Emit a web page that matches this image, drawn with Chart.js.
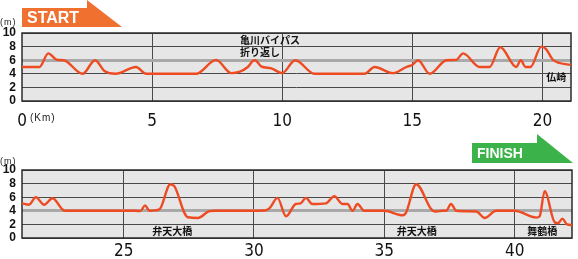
<!DOCTYPE html>
<html lang="ja">
<head>
<meta charset="utf-8">
<title>Course elevation</title>
<script src="https://cdn.jsdelivr.net/npm/chart.js@4.4.1/dist/chart.umd.min.js"></script>
<style>
  body { margin: 0; background: #fff; }
  #wrap { position: relative; width: 578px; height: 259px; }
  canvas { position: absolute; left: 0; }
  #topChart { top: 0; }
  #bottomChart { top: 130px; }
</style>
</head>
<body>
<div id="wrap">
  <canvas id="topChart" width="578" height="130"></canvas>
  <canvas id="bottomChart" width="578" height="129"></canvas>
</div>
<script>
// first half of the course: distance (km) / elevation (m)
const topKm = [0, 0.67, 1.01, 1.35, 1.6, 2.33, 2.81, 3.17, 3.6, 4.38, 4.77, 6.69, 7.46, 8.04, 8.68, 8.87, 8.96, 9.19, 9.58, 10.0,
  10.5, 11.24, 13.17, 13.55, 14.26, 14.77, 15.0, 15.22, 15.67, 16.31, 16.69, 16.95, 17.59, 17.97, 18.38, 19.0, 19.17, 19.35, 19.54,
  19.96, 20.15, 20.41, 21.1];
const topElev = [5.0, 5.0, 7.0, 6.05, 6.0, 4.0, 6.0, 4.4, 4.0, 5.0, 4.0, 4.0, 6.05, 4.1, 5.0, 5.9, 6.0, 5.1, 4.8, 4.1,
  6.0, 4.0, 4.0, 5.0, 4.1, 5.0, 5.3, 6.0, 4.0, 6.0, 6.05, 7.0, 5.0, 5.0, 7.9, 5.0, 6.0, 5.0, 5.0,
  8.0, 7.6, 6.05, 5.3];

// second half
const bottomKm = [21.1, 21.37, 21.63, 21.95, 22.27, 22.65, 22.78, 25.47, 25.64, 25.82, 25.99, 26.37, 26.79, 26.95, 27.33, 27.46,
  27.85, 28.29, 28.49, 30.41, 30.6, 30.9, 31.23, 31.6, 31.79, 31.99, 32.24, 32.76, 33.08, 33.4, 33.59, 33.78, 33.97, 34.23,
  35.0, 35.71, 35.83, 36.22, 36.86, 36.99, 37.24, 37.37, 37.56, 37.76, 38.53, 38.85, 39.29, 40.0, 40.83, 40.96, 41.15,
  41.54, 41.67, 41.83, 42.01, 42.2];
const bottomElev = [5.1, 4.9, 6.0, 4.9, 5.85, 4.2, 4.0, 4.0, 3.95, 4.8, 4.0, 4.2, 7.9, 7.6, 3.7, 3.05,
  2.95, 3.95, 4.0, 4.05, 4.4, 5.9, 3.2, 5.0, 5.1, 5.9, 5.0, 5.1, 6.15, 5.0, 5.0, 4.0, 5.0, 4.0,
  4.0, 3.35, 3.7, 7.9, 4.0, 3.9, 4.0, 4.0, 5.0, 4.0, 3.9, 2.95, 4.0, 4.0, 3.0, 3.2, 6.9,
  2.3, 2.2, 2.85, 2.0, 1.9];

const elevTicks = [0, 2, 4, 6, 8, 10];
const topKmTicks = [0, 5, 10, 15, 20];
const bottomKmTicks = [25, 30, 35, 40];

const topPlaces = [
  { text: "亀川バイパス", km: 8.38, m: 8.95 },
  { text: "折り返し", km: 8.38, m: 7.2 },
  { text: "仏崎", km: 20.15, m: 3.5 },
];
const bottomPlaces = [
  { text: "弁天大橋", km: 26.1, m: 1.0 },
  { text: "弁天大橋", km: 35.48, m: 1.0 },
  { text: "舞鶴橋", km: 40.48, m: 1.0 },
];

const decor = {
  id: "decor",
  beforeDraw(chart) {
    const { ctx, chartArea: a } = chart;
    ctx.save();
    ctx.fillStyle = "#e6e6e6";
    ctx.fillRect(a.left, a.top, a.width, a.height);
    ctx.restore();
  },
  beforeDatasetsDraw(chart) {
    const { ctx, chartArea: a } = chart;
    ctx.save();
    ctx.strokeStyle = "#2b2b2b";
    ctx.lineWidth = 1.5;
    ctx.strokeRect(a.left, a.top, a.width, a.height);
    ctx.restore();
  },
  afterDraw(chart, args, opts) {
    const { ctx } = chart;
    const xs = chart.scales.x, ys = chart.scales.y;
    ctx.save();
    // place names
    ctx.fillStyle = "#111";
    ctx.font = "bold 10px 'Noto Sans CJK JP'";
    ctx.textAlign = "left";
    ctx.textBaseline = "middle";
    opts.places.forEach((p) => {
      ctx.fillText(p.text, xs.getPixelForValue(p.km), ys.getPixelForValue(p.m));
    });
    // unit labels
    ctx.font = "9px 'Liberation Sans'";
    ctx.fillStyle = "#222";
    ctx.letterSpacing = "1px";
    ctx.fillText("(m)", 0, opts.mY);
    if (opts.kmY) {
      ctx.font = "10px 'Liberation Sans'";
      ctx.fillText("(Km)", 30, opts.kmY);
    }
    ctx.letterSpacing = "0px";
    // START / FINISH flag
    const f = opts.flag;
    ctx.fillStyle = f.color;
    ctx.beginPath();
    ctx.moveTo(f.x0, f.y1);
    ctx.lineTo(f.x1, f.y1);
    ctx.lineTo(f.x1, f.yTop);
    ctx.lineTo(f.x2, f.y2);
    ctx.lineTo(f.x0, f.y2);
    ctx.closePath();
    ctx.fill();
    ctx.fillStyle = "#fff";
    ctx.font = "bold " + f.size + "px 'Liberation Sans'";
    ctx.textAlign = "left";
    ctx.fillText(f.text, f.tx, (f.y1 + f.y2) / 2 + 1);
    ctx.restore();
  },
};

function makeChart(id, km, elev, xMin, xMax, xTicks, hlLine, cfg) {
  return new Chart(document.getElementById(id), {
    type: "line",
    data: {
      datasets: [
        {
          data: km.map((k, i) => ({ x: k, y: elev[i] })),
          borderColor: "#ee4b22",
          borderWidth: 2.4,
          pointRadius: 0,
          fill: false,
          cubicInterpolationMode: "monotone",
        },
      ],
    },
    options: {
      responsive: false,
      animation: false,
      events: [],
      layout: { padding: { top: cfg.padTop, right: cfg.padRight, left: 0, bottom: 0 } },
      scales: {
        x: {
          type: "linear",
          min: xMin,
          max: xMax,
          afterBuildTicks: (s) => { s.ticks = xTicks.map((v) => ({ value: v })); },
          afterFit: (s) => { s.height = cfg.xHeight; },
          border: { display: false },
          grid: {
            drawTicks: false,
            color: (c) => (c.tick && c.tick.value === xMin ? "rgba(0,0,0,0)" : "#4a4a4a"),
            lineWidth: 1,
          },
          ticks: {
            autoSkip: false,
            maxRotation: 0,
            padding: cfg.xPad,
            color: "#111",
            font: { family: "'Liberation Sans Narrow', 'DejaVu Sans Condensed', 'Liberation Sans'", size: 17 },
          },
        },
        y: {
          min: 0,
          max: 10,
          afterBuildTicks: (s) => { s.ticks = elevTicks.map((v) => ({ value: v })); },
          afterFit: (s) => { s.width = 22; },
          border: { display: false },
          grid: {
            drawTicks: false,
            color: (c) => (c.tick && c.tick.value === hlLine ? "#a9a9a9" : "#4a4a4a"),
            lineWidth: (c) => (c.tick && c.tick.value === hlLine ? 3 : 1),
          },
          ticks: {
            autoSkip: false,
            padding: 6,
            color: "#111",
            font: { family: "'Liberation Sans'", size: 12, weight: "bold" },
          },
        },
      },
      plugins: {
        legend: { display: false },
        tooltip: { enabled: false },
        decor: cfg.decor,
      },
    },
    plugins: [decor],
  });
}

makeChart("topChart", topKm, topElev, 0, 21.1, topKmTicks, 6, {
  padTop: 33, padRight: 7, xHeight: 29, xPad: 10,
  decor: {
    places: topPlaces,
    mY: 23,
    kmY: 118,
    flag: { text: "START", color: "#f07030", x0: 22, x1: 87, x2: 122, yTop: 0, y1: 8, y2: 27, tx: 27, size: 16 },
  },
});

makeChart("bottomChart", bottomKm, bottomElev, 21.1, 42.2, bottomKmTicks, 4, {
  padTop: 40, padRight: 6, xHeight: 21, xPad: 3,
  decor: {
    places: bottomPlaces,
    mY: 32,
    kmY: 0,
    flag: { text: "FINISH", color: "#3cb34a", x0: 472, x1: 537, x2: 573, yTop: 4, y1: 13, y2: 33, tx: 477, size: 14 },
  },
});
</script>
</body>
</html>
